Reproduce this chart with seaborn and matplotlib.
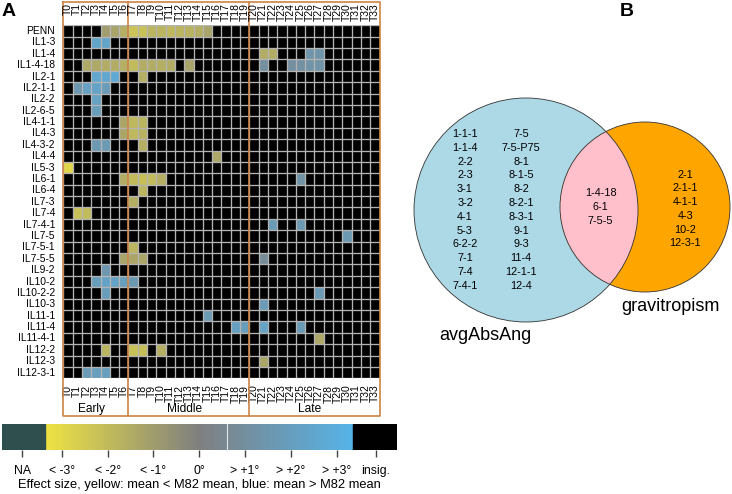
import numpy as np
import pandas as pd
import matplotlib
matplotlib.use("Agg")
import matplotlib.pyplot as plt
import seaborn as sns
from matplotlib.colors import LinearSegmentedColormap
from matplotlib.patches import Circle, Rectangle

# introgression lines (rows) and time points (columns)
lines = ["PENN", "IL1-3", "IL1-4", "IL1-4-18", "IL2-1", "IL2-1-1", "IL2-2", "IL2-6-5",
         "IL4-1-1", "IL4-3", "IL4-3-2", "IL4-4", "IL5-3", "IL6-1", "IL6-4", "IL7-3",
         "IL7-4", "IL7-4-1", "IL7-5", "IL7-5-1", "IL7-5-5", "IL9-2", "IL10-2", "IL10-2-2",
         "IL10-3", "IL11-1", "IL11-4", "IL11-4-1", "IL12-2", "IL12-3", "IL12-3-1"]
times = ["T%d" % i for i in range(34)]
periods = ["Early", "Middle", "Late"]
period_start = [0, 7, 20]
period_end = [7, 20, 34]

# significant cells only (everything else is "insig.")
sig_line = (["PENN"] * 12 + ["IL1-3"] * 2 + ["IL1-4"] * 4 + ["IL1-4-18"] * 16 +
            ["IL2-1"] * 4 + ["IL2-1-1"] * 4 + ["IL2-2"] + ["IL2-6-5"] +
            ["IL4-1-1"] * 3 + ["IL4-3"] * 3 + ["IL4-3-2"] * 3 + ["IL4-4"] + ["IL5-3"] +
            ["IL6-1"] * 6 + ["IL6-4"] + ["IL7-3"] + ["IL7-4"] * 2 + ["IL7-4-1"] * 2 +
            ["IL7-5"] + ["IL7-5-1"] + ["IL7-5-5"] * 4 + ["IL9-2"] + ["IL10-2"] * 5 +
            ["IL10-2-2"] * 2 + ["IL10-3"] + ["IL11-1"] + ["IL11-4"] * 4 + ["IL11-4-1"] +
            ["IL12-2"] * 4 + ["IL12-3"] + ["IL12-3-1"] * 3)
sig_time = ([4, 5, 6, 7, 8, 9, 10, 11, 12, 13, 14, 15] + [3, 4] + [21, 22, 26, 27] +
            [2, 3, 4, 5, 6, 7, 8, 9, 10, 11, 13, 21, 24, 25, 26, 27] +
            [3, 4, 5, 8] + [1, 2, 3, 4] + [3] + [3] +
            [6, 7, 8] + [6, 7, 8] + [3, 4, 8] + [16] + [0] +
            [6, 7, 8, 9, 10, 25] + [8] + [7] + [1, 2] + [22, 25] +
            [30] + [7] + [6, 7, 8, 21] + [4] + [3, 4, 5, 6, 7] +
            [4, 27] + [21] + [15] + [18, 19, 21, 25] + [27] +
            [4, 7, 8, 10] + [21] + [2, 3, 4])
sig_effect = ([-1.0, -1.2, -1.6, -2.3, -2.2, -1.8, -1.8, -1.9, -1.8, -1.7, -1.6, -1.2] +
              [2.4, 2.4] + [-1.5, -1.5, 1.4, 1.4] +
              [-1.4, -1.4, -1.5, -1.5, -1.6, -2.0, -1.5, -1.5, -1.6, -1.5, -1.2,
               1.0, 1.0, 1.1, 1.3, 1.3] +
              [2.5, 2.6, 2.7, -1.6] + [1.5, 2.2, 2.3, 1.8] + [2.2] + [1.9] +
              [-1.3, -1.9, -1.8] + [-1.3, -1.9, -1.7] + [1.6, 1.7, -1.6] + [-1.4] + [-2.9] +
              [-1.5, -2.0, -2.1, -2.0, -1.6, 1.2] + [-1.8] + [-1.6] + [-2.2, -2.0] + [1.8, 1.6] +
              [1.6] + [-1.8] + [-1.2, -1.3, -1.3, 0.8] + [1.5] + [1.9, 2.3, 2.2, 2.0, 1.6] +
              [1.9, 1.7] + [1.8] + [1.7] + [2.1, 1.9, 2.2, 1.8] + [-1.4] +
              [-1.8, -2.2, -2.1, -1.6] + [-1.3] + [1.8, 2.0, 2.0])

cbar_ticks = [-3.86, -3, -2, -1, 0, 1, 2, 3, 3.86]
cbar_labels = ["NA", "< -3°", "< -2°", "< -1°", "0°", "> +1°", "> +2°", "> +3°", "insig."]

# Venn diagram sets
only_avg_col1 = ["1-1-1", "1-1-4", "2-2", "2-3", "3-1", "3-2", "4-1", "5-3", "6-2-2", "7-1", "7-4", "7-4-1"]
only_avg_col2 = ["7-5", "7-5-P75", "8-1", "8-1-5", "8-2", "8-2-1", "8-3-1", "9-1", "9-3", "11-4", "12-1-1", "12-4"]
both_sets = ["1-4-18", "6-1", "7-5-5"]
only_grav = ["2-1", "2-1-1", "4-1-1", "4-3", "10-2", "12-3-1"]

plt.rcParams["font.family"] = ["Liberation Sans", "DejaVu Sans"]

effect_cmap = LinearSegmentedColormap.from_list("effect", ["#F0E442", "#808080", "#56B4E9"])
na_color = "#2F4F4F"
box_color = "#CC8447"
grid_color = "#B4B4B4"

df = pd.DataFrame(np.nan, index=lines, columns=times)
for l, t, v in zip(sig_line, sig_time, sig_effect):
    df.loc[l, "T%d" % t] = v

W, H = 732, 494
fig = plt.figure(figsize=(W / 100, H / 100), dpi=100)


def px_axes(x0, y0, x1, y1):
    return fig.add_axes([x0 / W, 1 - y1 / H, (x1 - x0) / W, (y1 - y0) / H])


# ---- panel A: heatmap
hm = px_axes(63.3, 25.3, 379.5, 378.3)
hm.set_facecolor("black")
sns.heatmap(df, ax=hm, cmap=effect_cmap, vmin=-3.4, vmax=3.4, cbar=False,
            mask=df.isna(), xticklabels=True, yticklabels=True)
nr, nc = df.shape
hm.hlines(np.arange(nr + 1), 0, nc, colors=grid_color, lw=0.95)
hm.vlines(np.arange(nc + 1), 0, nr, colors=grid_color, lw=0.95)
hm.set_xlabel("")
hm.set_ylabel("")
hm.tick_params(length=0)
hm.set_xticklabels(times, rotation=90, fontsize=7.5)
hm.tick_params(axis="x", pad=4.5)
hm.set_yticklabels(lines, rotation=0, fontsize=7.4)
hm.tick_params(axis="y", pad=6)
for i, t in enumerate(times):
    hm.text(i + 0.5, -1.95, t, rotation=90, ha="center", va="top", fontsize=7.5, clip_on=False)

box_top, box_bot = -2.05, 34.28
hm.plot([0, nc, nc, 0, 0], [box_top, box_top, box_bot, box_bot, box_top],
        color=box_color, lw=1.2, clip_on=False)
for s in period_start[1:]:
    hm.plot([s, s], [box_top, box_bot], color=box_color, lw=1.2, clip_on=False)
for p, s, e in zip(periods, period_start, period_end):
    hm.text((s + e) / 2 - 0.5, 33.69, p, ha="center", va="center", fontsize=8.6, clip_on=False)

# ---- colour key
cb = px_axes(1.7, 424, 397, 450)
grad = np.linspace(-3.36, 3.36, 400)[None, :]
cb.imshow(grad, extent=(-3.36, 3.36, 0, 1), aspect="auto", cmap=effect_cmap, vmin=-3.4, vmax=3.4)
cb.add_patch(Rectangle((-4.314, 0), 0.954, 1, color=na_color))
cb.add_patch(Rectangle((3.36, 0), 0.96, 1, color="black"))
cb.axvline(0.6, color="white", lw=0.8, alpha=0.8)
cb.set_xlim(-4.314, 4.317)
cb.set_ylim(0, 1)
cb.set_xticks(cbar_ticks)
cb.set_xticklabels(cbar_labels)
cb.set_yticks([])
cb.tick_params(axis="x", length=5, width=1, color="#444444", pad=5.5, labelsize=8.8)
for sp in cb.spines.values():
    sp.set_visible(False)
fig.text(199 / W, 1 - 485 / H, "Effect size, yellow: mean < M82 mean, blue: mean > M82 mean",
         ha="center", va="center", fontsize=9.3)

# ---- panel B: Venn diagram
vn = px_axes(400, 0, 732, 494)
vn.set_xlim(400, 732)
vn.set_ylim(494, 0)
vn.axis("off")
left = Circle((526, 210), 112, fc="#ADD8E6", ec="none")
right = Circle((645, 207), 85, fc="#FFA500", ec="none")
vn.add_patch(left)
vn.add_patch(right)
lens = Circle((645, 207), 85, fc="#FFC0CB", ec="none")
vn.add_patch(lens)
lens.set_clip_path(left)
vn.add_patch(Circle((526, 210), 112, fc="none", ec="#333333", lw=0.6))
vn.add_patch(Circle((645, 207), 85, fc="none", ec="#333333", lw=0.6))

for i, (a, b) in enumerate(zip(only_avg_col1, only_avg_col2)):
    vn.text(465, 134 + i * 13.8, a, ha="center", va="center", fontsize=7.8)
    vn.text(521, 134 + i * 13.8, b, ha="center", va="center", fontsize=7.8)
for i, s in enumerate(both_sets):
    vn.text(600.7, 193.3 + i * 14, s, ha="center", va="center", fontsize=7.8)
for i, s in enumerate(only_grav):
    vn.text(685.3, 174.7 + i * 13.7, s, ha="center", va="center", fontsize=7.8)
vn.text(485.8, 335, "avgAbsAng", ha="center", va="center", fontsize=13)
vn.text(670.8, 306.7, "gravitropism", ha="center", va="center", fontsize=13)

fig.text(1.5 / W, 1 - 12 / H, "A", fontsize=14, fontweight="bold", va="center", ha="left")
fig.text(620 / W, 1 - 12 / H, "B", fontsize=14, fontweight="bold", va="center", ha="left")

fig.savefig("out.png", dpi=100)
